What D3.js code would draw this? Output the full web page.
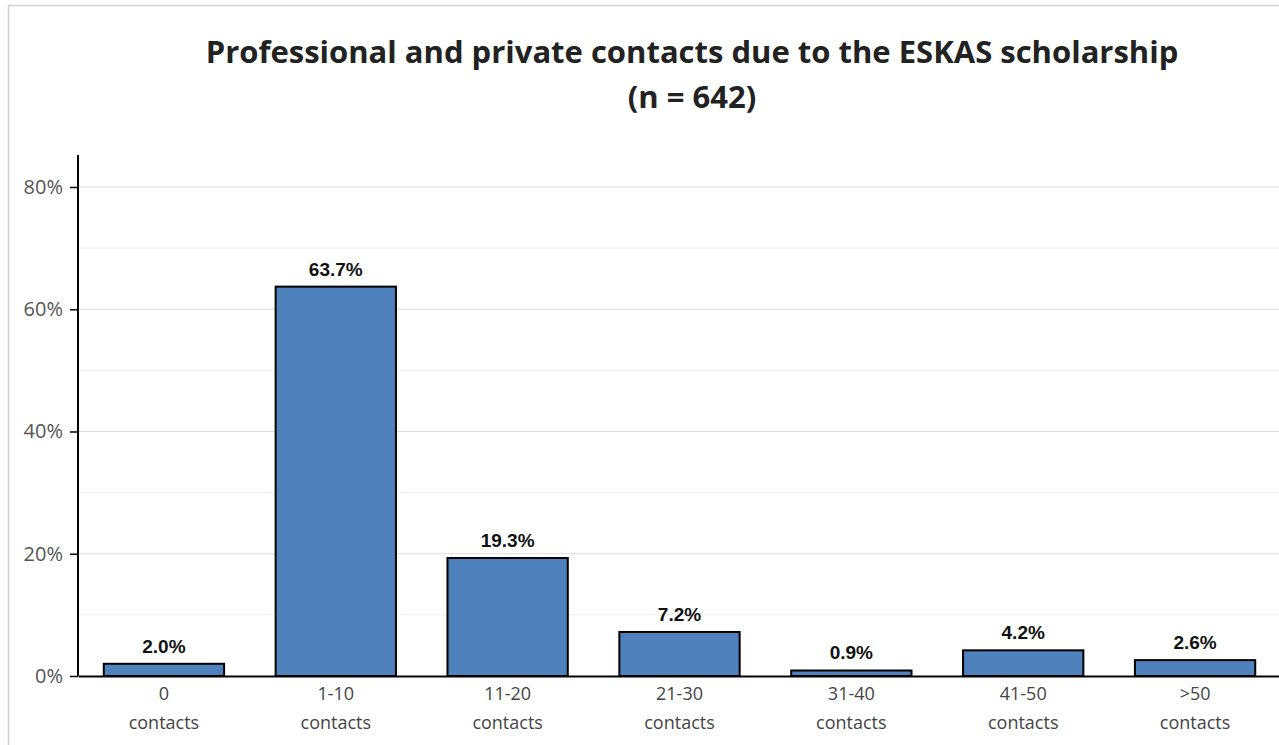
<!DOCTYPE html>
<html>
<head>
<meta charset="utf-8">
<script src="https://cdnjs.cloudflare.com/ajax/libs/d3/7.8.5/d3.min.js"></script>
<style>
  body { margin: 0; background: #fff; }
  svg { display: block; }
</style>
</head>
<body>
<div id="chart"></div>
<script>
// chart data
var categories = ["0|contacts", "1-10|contacts", "11-20|contacts", "21-30|contacts", "31-40|contacts", "41-50|contacts", ">50|contacts"];
var shares = [2.0, 63.7, 19.3, 7.2, 0.9, 4.2, 2.6];
var majorTicks = [0, 20, 40, 60, 80];
var gridTicks = [10, 20, 30, 40, 50, 60, 70, 80];

var svgWidth = 1279, svgHeight = 745;
var margin = { top: 187, right: 0, bottom: 69, left: 78 };
var chartWidth = 1281 - margin.left;
var chartHeight = svgHeight - margin.top - margin.bottom;

var svg = d3.select("#chart").append("svg")
  .attr("width", svgWidth)
  .attr("height", svgHeight);

// outer frame
svg.append("rect")
  .attr("x", 8.5).attr("y", 5.5)
  .attr("width", 1300).attr("height", 800)
  .attr("fill", "none")
  .attr("stroke", "#d0d0d0")
  .attr("stroke-width", 1.5);

// title
var title = svg.append("text")
  .attr("text-anchor", "middle")
  .attr("font-family", "Open Sans, sans-serif")
  .attr("font-weight", "bold")
  .attr("font-size", 31)
  .attr("fill", "#222");
title.append("tspan").attr("x", 692).attr("y", 63).text("Professional and private contacts due to the ESKAS scholarship");
title.append("tspan").attr("x", 692).attr("y", 108).text("(n = 642)");

var chartGroup = svg.append("g")
  .attr("transform", `translate(${margin.left}, ${margin.top})`);

var x = d3.scaleBand()
  .domain(categories)
  .range([0, chartWidth])
  .paddingInner(0.3)
  .paddingOuter(0.15);

var y = d3.scaleLinear()
  .domain([0, 80])
  .range([chartHeight, 0]);

// gridlines
chartGroup.selectAll(".grid")
  .data(gridTicks)
  .enter()
  .append("line")
  .attr("x1", 0).attr("x2", svgWidth)
  .attr("y1", d => y(d)).attr("y2", d => y(d))
  .attr("stroke", d => d % 20 === 0 ? "#dcdcdc" : "#efefef")
  .attr("stroke-width", 1);

// y axis
var leftAxis = d3.axisLeft(y).tickValues(majorTicks).tickSize(8).tickFormat(d => d + "%");
var yAxis = chartGroup.append("g").call(leftAxis);
yAxis.select(".domain").remove();
yAxis.selectAll("line").attr("stroke", "#000").attr("stroke-width", 1.5);
yAxis.selectAll("text")
  .attr("font-family", "Open Sans, sans-serif")
  .attr("font-size", 20)
  .attr("fill", "#555")
  .attr("x", -15);
chartGroup.append("line")
  .attr("x1", 0).attr("x2", 0)
  .attr("y1", y(80) - 32).attr("y2", chartHeight)
  .attr("stroke", "#000").attr("stroke-width", 2);

// bars
chartGroup.selectAll(".bar")
  .data(shares)
  .enter()
  .append("rect")
  .attr("x", (d, i) => x(categories[i]))
  .attr("y", d => y(d))
  .attr("width", x.bandwidth())
  .attr("height", d => chartHeight - y(d))
  .attr("fill", "#4f81bd")
  .attr("stroke", "#000")
  .attr("stroke-width", 2);

// value labels
chartGroup.selectAll(".val")
  .data(shares)
  .enter()
  .append("text")
  .attr("x", (d, i) => x(categories[i]) + x.bandwidth() / 2)
  .attr("y", d => y(d) - 11)
  .attr("text-anchor", "middle")
  .attr("font-family", "Liberation Sans, Arial, sans-serif")
  .attr("font-weight", "bold")
  .attr("font-size", 19)
  .attr("fill", "#111")
  .text(d => d.toFixed(1) + "%");

// x axis
var bottomAxis = d3.axisBottom(x).tickSize(0).tickFormat("");
var xAxis = chartGroup.append("g")
  .attr("transform", `translate(0, ${chartHeight})`)
  .call(bottomAxis);
xAxis.select(".domain").attr("stroke", "#000").attr("stroke-width", 2);

xAxis.selectAll(".tick").each(function(d) {
  var parts = d.split("|");
  var t = d3.select(this).append("text")
    .attr("text-anchor", "middle")
    .attr("font-family", "Open Sans, sans-serif")
    .attr("font-size", 18)
    .attr("fill", "#444");
  t.append("tspan").attr("x", 0).attr("y", 24).text(parts[0]);
  t.append("tspan").attr("x", 0).attr("y", 53).text(parts[1]);
});
</script>
</body>
</html>
